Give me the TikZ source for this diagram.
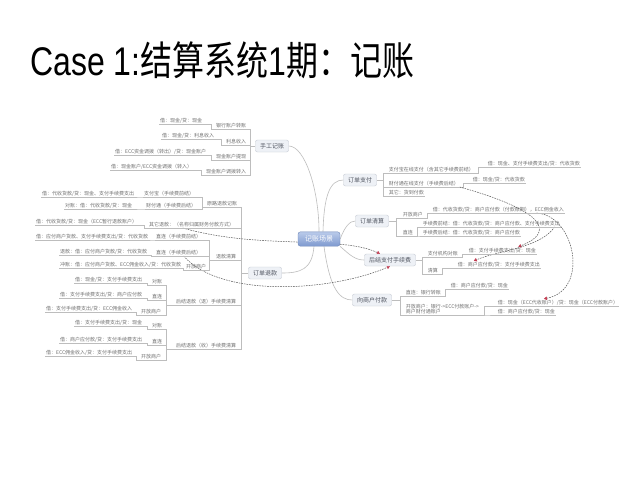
\documentclass[tikz,border=0pt]{standalone}
\usepackage{fontspec}
\usepackage{graphicx}
\newfontfamily\cjk{Noto Sans CJK SC}
\newfontfamily\latin{Liberation Sans}
\usetikzlibrary{arrows.meta,backgrounds}

\definecolor{leafgray}{HTML}{707070}
\definecolor{topicgray}{HTML}{505560}
\definecolor{linegray}{HTML}{BDBDBD}
\definecolor{boxfill}{HTML}{EEF1F6}
\definecolor{boxline}{HTML}{C5CAD3}
\definecolor{roottop}{HTML}{BACBEA}
\definecolor{rootbot}{HTML}{7E99CF}
\definecolor{rootline}{HTML}{7088B8}
\definecolor{dashgray}{HTML}{555555}
\definecolor{arrowred}{HTML}{C23A50}

\begin{document}
\begin{tikzpicture}[x=1pt,y=-1pt,
		lb/.style={to path={-- ++(-#1,0) |- (\tikztotarget)}}, lb/.default=4,
		rb/.style={to path={-- ++(#1,0) |- (\tikztotarget)}}, rb/.default=4]
		\tikzstyle{uline}=[draw=linegray, line width=0.4pt]
		\tikzstyle{leaf}=[font=\cjk\fontsize{5}{5.5}\selectfont, text=leafgray, inner xsep=0.6pt, inner ysep=0.8pt,
			append after command={(\tikzlastnode.south west) edge[uline] (\tikzlastnode.south east)}]
		\tikzstyle{lleaf}=[leaf, anchor=south east]
		\tikzstyle{rleaf}=[leaf, anchor=south west]
		\tikzstyle{topic}=[font=\cjk\fontsize{6}{6}\selectfont, text=topicgray, draw=boxline, line width=0.4pt,
			fill=boxfill, rounded corners=2pt, inner xsep=4.5pt, inner ysep=3pt, minimum height=12pt]
		\tikzstyle{rootbox}=[font=\cjk\fontsize{7}{7}\selectfont, text=white, draw=rootline, line width=0.4pt,
			top color=roottop, bottom color=rootbot, rounded corners=2.5pt, inner xsep=7pt, inner ysep=4pt]
		\tikzstyle{link}=[draw=linegray, line width=0.45pt]
		\tikzstyle{branch}=[draw=linegray, line width=0.6pt]
		\tikzstyle{relation}=[draw=dashgray, line width=0.5pt, dash pattern=on 1.6pt off 1pt,
			-{Triangle[angle=60:3.5pt, color=arrowred]}]
		
		\useasboundingbox (0,0) rectangle (640,480);
		
		\node[anchor=base west, inner sep=0] (title) at (30,75)
			{\scalebox{0.8}[1]{\fontsize{40}{40}\selectfont\latin Case 1:\cjk 结算系统\latin 1\cjk 期：记账}};
		
		\node[rootbox] (root) at (319,239) {记账场景};
		
		% Manual bookkeeping
		\node[topic] (hs) at (272,146) {手工记账};
		\node[lleaf] (h1) at (247,129) {银行账户转账};
		\node[lleaf] (h1a) at (203,124) {借：现金/贷：现金};
		\node[lleaf] (h2) at (247,145) {利息收入};
		\node[lleaf] (h2a) at (215,139) {借：现金/贷：利息收入};
		\node[lleaf] (h3) at (247,160) {现金账户提现};
		\node[lleaf] (h3a) at (207,155) {借：ECC资金调拨（转出）/贷：现金账户};
		\node[lleaf] (h4) at (247,175) {现金账户调拨转入};
		\node[lleaf] (h4a) at (193,170) {借：现金账户/ECC资金调拨（转入）};
		
		% Order refund
		\node[topic] (tk) at (265,273) {订单退款};
		\node[lleaf] (t1) at (238,207) {原路退款记账};
		\node[lleaf] (t1a) at (195,197) {支付宝（手续费前结）};
		\node[lleaf] (t1a1) at (135,197) {借：代收货款/贷：现金、支付手续费支出};
		\node[lleaf] (t1b) at (197,209) {财付通（手续费后结）};
		\node[lleaf] (t1b1) at (133,209) {对账：借：代收货款/贷：现金};
		\node[lleaf] (t2) at (235,228) {其它退款：（名称归属财务付款方式）};
		\node[lleaf] (t2a) at (138,225) {借：代收货款/贷：现金（ECC暂行退款账户）};
		\node[lleaf] (t3) at (237,260) {退款清算};
		\node[lleaf] (t3a) at (202,240) {直连（手续费前结）};
		\node[lleaf] (t3a1) at (149,240) {借：应付商户货款、支付手续费支出/贷：代收货款};
		\node[lleaf] (t3b) at (202,256) {直连（手续费后结）};
		\node[lleaf] (t3b1) at (148,255) {退款：借：应付商户货款/贷：代收货款};
		\node[lleaf] (t3c) at (207,270) {开放商户};
		\node[lleaf] (t3c1) at (182,268) {冲账：借：应付商户货款、ECC佣金收入/贷：代收货款};
		\node[lleaf] (t4) at (237,305) {后结退款（退）手续费清算};
		\node[lleaf] (t4a) at (163,285) {对账};
		\node[lleaf] (t4a1) at (143,283) {借：现金/贷：支付手续费支出};
		\node[lleaf] (t4b) at (163,300) {直连};
		\node[lleaf] (t4b1) at (143,298) {借：支付手续费支出/贷：商户应付款};
		\node[lleaf] (t4c) at (162,315) {开放商户};
		\node[lleaf] (t4c1) at (133,312) {借：支付手续费支出/贷：ECC佣金收入};
		\node[lleaf] (t5) at (237,349) {后结退款（收）手续费清算};
		\node[lleaf] (t5a) at (163,329) {对账};
		\node[lleaf] (t5a1) at (143,326) {借：支付手续费支出/贷：现金};
		\node[lleaf] (t5b) at (163,345) {直连};
		\node[lleaf] (t5b1) at (143,343) {借：商户应付款/贷：支付手续费支出};
		\node[lleaf] (t5c) at (162,360) {开放商户};
		\node[lleaf] (t5c1) at (133,356) {借：ECC佣金收入/贷：支付手续费支出};
		
		% Order payment
		\node[topic] (zf) at (360,180) {订单支付};
		\node[rleaf] (z1) at (388,173) {支付宝在线支付（含其它手续费前结）};
		\node[rleaf] (z1a) at (487,167) {借：现金、支付手续费支出/贷：代收货款};
		\node[rleaf] (z2) at (388,187) {财付通在线支付（手续费后结）};
		\node[rleaf] (z2a) at (472,183) {借：现金/贷：代收货款};
		\node[rleaf] (z3) at (388,196) {其它：货到付款};
		
		% Order clearing
		\node[topic] (qs) at (372,221) {订单清算};
		\node[rleaf] (q1) at (402,218) {开放商户};
		\node[rleaf] (q1a) at (432,213) {借：代收货款/贷：商户应付款（付款账期），ECC佣金收入};
		\node[rleaf] (q2) at (402,236) {直连};
		\node[rleaf] (q2a) at (422,227) {手续费前结：借：代收货款/贷：商户应付款、支付手续费支出};
		\node[rleaf] (q2b) at (422,236) {手续费后结：借：代收货款/贷：商户应付款};
		
		% Deferred fee
		\node[topic] (hj) at (390,260) {后结支付手续费};
		\node[rleaf] (hj1) at (427,257) {支付机构对账};
		\node[rleaf] (hj1a) at (468,254) {借：支付手续费支出/贷：现金};
		\node[rleaf] (hj2) at (427,274) {清算};
		\node[rleaf] (hj2a) at (457,268) {借：商户应付款/贷：支付手续费支出};
		
		% Merchant payout
		\node[topic] (fk) at (372,300) {向商户付款};
		\node[rleaf] (f1) at (405,296) {直连：银行转账};
		\node[rleaf] (f1a) at (450,289) {借：商户应付款/贷：现金};
		\node[rleaf, align=left] (f2) at (405,315) {开放商户：银行->ECC付款账户->\\商户财付通账户};
		\node[rleaf] (f2a) at (497,306) {借：现金（ECC代收账户）/贷：现金（ECC付款账户）};
		\node[rleaf] (f2b) at (497,315) {借：商户应付款/贷：现金};
		
		\begin{scope}[on background layer]
		\fill[white] (0,0) rectangle (640,480);
		
		% branches out of the root
		\draw[branch] (root.north) .. controls (319,190) and (305,146) .. (hs.east);
		\draw[branch] ([xshift=4pt]root.north) .. controls (324,195) and (330,180) .. (zf.west);
		\draw[branch] (root.east) .. controls (345,226) and (350,221) .. (qs.west);
		\draw[branch] (root.south east) .. controls (350,255) and (355,260) .. (hj.west);
		\draw[branch] ([xshift=5pt]root.south) .. controls (330,290) and (340,300) .. (fk.west);
		\draw[branch] ([xshift=-5pt]root.south) .. controls (312,270) and (300,273) .. (tk.east);
		
		% left side
		\draw[link] (hs.west) to[lb=5.5] (h1.south east) (hs.west) to[lb=5.5] (h2.south east)
			(hs.west) to[lb=5.5] (h3.south east) (hs.west) to[lb=5.5] (h4.south east);
		\draw[link] (h1.south west) to[lb] (h1a.south east);
		\draw[link] (h2.south west) to[lb] (h2a.south east);
		\draw[link] (h3.south west) to[lb] (h3a.south east);
		\draw[link] (h4.south west) to[lb] (h4a.south east);
		
		\draw[link] (tk.west) to[lb=7.5] (t1.south east) (tk.west) to[lb=7.5] (t2.south east)
			(tk.west) to[lb=7.5] (t3.south east) (tk.west) to[lb=7.5] (t4.south east)
			(tk.west) to[lb=7.5] (t5.south east);
		\draw[link] (t1.south west) to[lb] (t1a.south east) (t1.south west) to[lb] (t1b.south east);
		\draw[link] (t1a.south west) to[lb] (t1a1.south east);
		\draw[link] (t1b.south west) to[lb] (t1b1.south east);
		\draw[link] (t2.south west) to[lb] (t2a.south east);
		\draw[link] (t3.south west) to[lb=6] (t3a.south east) (t3.south west) to[lb=6] (t3b.south east)
			(t3.south west) to[lb=6] (t3c.south east);
		\draw[link] (t3a.south west) to[lb] (t3a1.south east);
		\draw[link] (t3b.south west) to[lb] (t3b1.south east);
		\draw[link] (t3c.south west) to[lb=2] (t3c1.south east);
		\draw[link] (t4.south west) to[lb=9] (t4a.south east) (t4.south west) to[lb=9] (t4b.south east)
			(t4.south west) to[lb=9] (t4c.south east);
		\draw[link] (t4a.south west) to[lb] (t4a1.south east);
		\draw[link] (t4b.south west) to[lb] (t4b1.south east);
		\draw[link] (t4c.south west) to[lb] (t4c1.south east);
		\draw[link] (t5.south west) to[lb=9] (t5a.south east) (t5.south west) to[lb=9] (t5b.south east)
			(t5.south west) to[lb=9] (t5c.south east);
		\draw[link] (t5a.south west) to[lb] (t5a1.south east);
		\draw[link] (t5b.south west) to[lb] (t5b1.south east);
		\draw[link] (t5c.south west) to[lb] (t5c1.south east);
		
		% right side
		\draw[link] (zf.east) to[rb=6.5] (z1.south west) (zf.east) to[rb=6.5] (z2.south west)
			(zf.east) to[rb=6.5] (z3.south west);
		\draw[link] (z1.south east) to[rb] (z1a.south west);
		\draw[link] (z2.south east) to[rb] (z2a.south west);
		\draw[link] (qs.east) to[rb=7.5] (q1.south west) (qs.east) to[rb=7.5] (q2.south west);
		\draw[link] (q1.south east) to[rb] (q1a.south west);
		\draw[link] (q2.south east) to[rb] (q2a.south west) (q2.south east) to[rb] (q2b.south west);
		\draw[link] (hj.east) to[rb=6.5] (hj1.south west) (hj.east) to[rb=6.5] (hj2.south west);
		\draw[link] (hj1.south east) to[rb] (hj1a.south west);
		\draw[link] (hj2.south east) to[rb] (hj2a.south west);
		\draw[link] (fk.east) to[rb=8.5] (f1.south west) (fk.east) to[rb=8.5] (f2.south west);
		\draw[link] (f1.south east) to[rb] (f1a.south west);
		\draw[link] (f2.south east) to[rb] (f2a.south west) (f2.south east) to[rb] (f2b.south west);
		
		% relations
		\draw[relation] (z2.south east) .. controls (525,205) and (565,228) .. ([xshift=16pt]hj1a.north);
		\draw[relation] ([xshift=38pt]q1a.south) .. controls (575,215) and (590,290) .. ([xshift=-14pt]f2a.north);
		\draw[relation] ([xshift=-6pt]q2a.south east) .. controls (540,248) and (500,250) .. ([xshift=-25pt]hj2a.north);
		\draw[relation] ([xshift=-9pt]t2.south) .. controls (260,250) and (340,235) .. ([xshift=-10pt]hj.north);
		\draw[relation] ([xshift=5pt]t3b.south) .. controls (220,298) and (330,292) .. (hj.south);
		\end{scope}
\end{tikzpicture}
\end{document}
